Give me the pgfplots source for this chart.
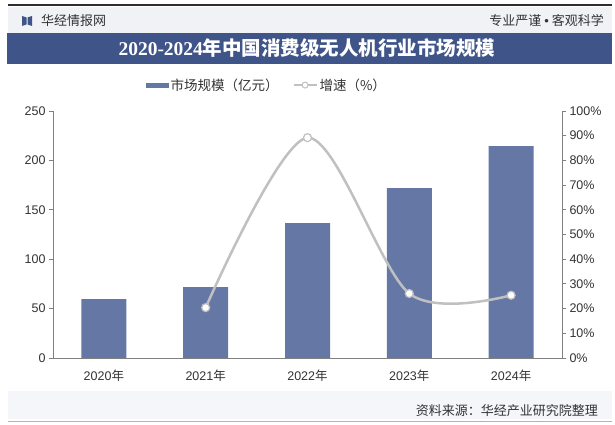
\documentclass[border=0pt]{standalone}
\usepackage{fontspec}
\setmainfont{Liberation Sans}
\newfontfamily\cjk{Noto Sans CJK SC}
\newfontfamily\serifnum{Liberation Serif}
\usepackage{pgfplots}
\pgfplotsset{compat=1.18}
\definecolor{barc}{HTML}{6578A5}
\definecolor{titlebg}{HTML}{3F5488}
\definecolor{headbg}{HTML}{F0F2F6}
\definecolor{linec}{HTML}{C0C0C0}
\definecolor{axc}{HTML}{808080}
\definecolor{txt}{HTML}{333333}
\begin{document}
\begin{tikzpicture}[x=1pt,y=1pt]
\useasboundingbox (0,0) rectangle (615,425);
\fill[white] (0,0) rectangle (615,425);
% header
\fill[headbg] (8,392) rectangle (612,418);
\draw[txt!90!black, line width=1.5pt] (8,420) -- (612,420);
\fill[titlebg] (22,399) -- (26.5,400.5) -- (26.5,407.5) -- (22,409) -- cycle;
\fill[titlebg] (32,399) -- (27.5,400.5) -- (27.5,407.5) -- (32,409) -- cycle;
\node[anchor=west, text=txt, font=\cjk\fontsize{13}{15}\selectfont, inner sep=0pt] at (41,404) {华经情报网};
\node[anchor=east, text=txt, font=\cjk\fontsize{13}{15}\selectfont, inner sep=0pt] at (604,404) {专业严谨 {\fontspec{Liberation Sans}\textbullet} 客观科学};
\fill[titlebg] (7,361) rectangle (612,392);
\node[text=white, inner sep=0pt] at (307,376.5) {{\serifnum\bfseries\fontsize{19.5}{21}\selectfont 2020-2024}{\cjk\bfseries\fontsize{19.5}{21}\selectfont 年中国消费级无人机行业市场规模}};
% bottom
\fill[headbg!70] (8,6) rectangle (612,34);
\draw[axc!60, line width=1pt] (8,3) -- (612,3);
\node[anchor=east, text=txt, font=\cjk\fontsize{13}{15}\selectfont, inner sep=0pt] at (598,14) {资料来源：华经产业研究院整理};

\begin{axis}[
  at={(53pt,67pt)}, anchor=south west, scale only axis,
  width=509pt, height=247pt,
  xmin=-0.5, xmax=4.5, ymin=0, ymax=250,
  axis y line*=left, axis x line*=bottom,
  axis line style={axc, line width=0.8pt},
  ytick={0,50,...,250},
  xtick={0,...,4},
  xticklabels={2020{\cjk 年},2021{\cjk 年},2022{\cjk 年},2023{\cjk 年},2024{\cjk 年}},
  extra x ticks={0.5,1.5,2.5,3.5},
  extra x tick labels={},
  extra x tick style={major tick length=4pt, tick style={axc, line width=0.8pt}},
  xtick style={draw=none},
  ytick style={axc, line width=0.8pt},
  major tick length=4pt,
  tick align=outside,
  ticklabel style={font=\fontsize{12.5}{14}\selectfont, text=txt},
  xticklabel style={yshift=-4pt},
  /pgf/number format/assume math mode=true,
  clip=false,
  legend style={at={(0.42,1.105)}, anchor=center, draw=none, fill=none,
    legend columns=2, font=\cjk\fontsize{13.5}{15}\selectfont, text=txt,
    /tikz/every even column/.append style={column sep=12pt}},
]
\addplot[ybar, bar width=45pt, fill=barc, draw=none,
  legend image code/.code={\fill[barc] (0pt,-2.5pt) rectangle (23pt,2.5pt);}]
  coordinates {(0,59.7) (1,71.8) (2,136.4) (3,171.9) (4,214.5)};
\addlegendentry{市场规模（亿元）}
\addlegendimage{legend image code/.code={
  \draw[linec, line width=2pt] (0pt,0pt) -- (23pt,0pt);
  \draw[linec, fill=white, line width=1pt] (11.5pt,0pt) circle (3pt);}}
\addlegendentry{增速（\%）}
\end{axis}

\begin{axis}[
  at={(53pt,67pt)}, anchor=south west, scale only axis,
  width=509pt, height=247pt,
  xmin=-0.5, xmax=4.5, ymin=0, ymax=100,
  axis y line*=right, axis x line=none,
  axis line style={axc, line width=0.8pt},
  ytick={0,10,...,100},
  yticklabel={\pgfmathprintnumber{\tick}\%},
  ytick style={axc, line width=0.8pt},
  major tick length=4pt,
  tick align=outside,
  ticklabel style={font=\fontsize{12.5}{14}\selectfont, text=txt},
  /pgf/number format/assume math mode=true,
  clip=false,
]
\addplot[smooth, linec, line width=2.5pt, mark=*, mark size=4pt,
  mark options={fill=white, draw=linec, line width=1.2pt}]
  coordinates {(1,20.4) (2,89.2) (3,26.1) (4,25.4)};
\end{axis}
\end{tikzpicture}
\end{document}
